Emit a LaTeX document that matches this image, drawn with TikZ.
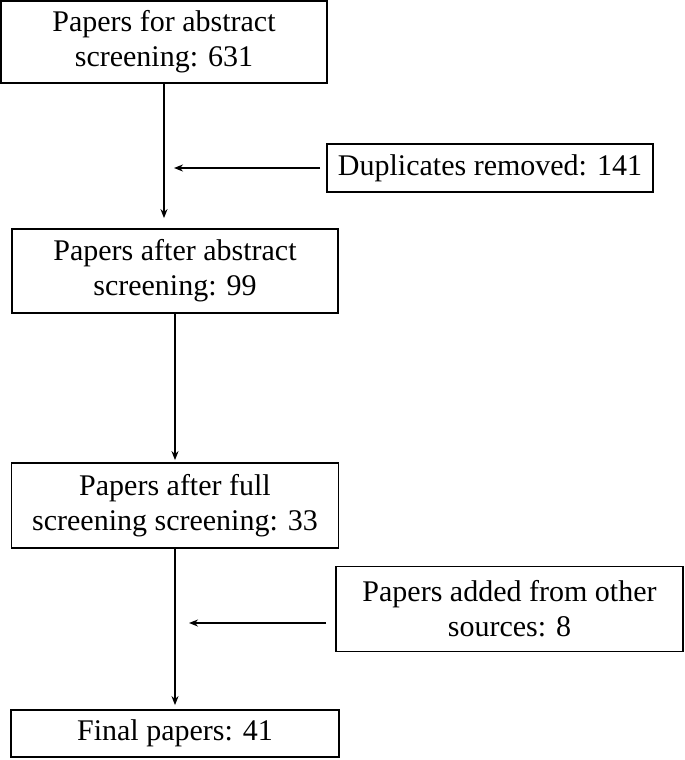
\documentclass[tikz,border=0pt]{standalone}
\usepackage{fontspec}
\setmainfont{Liberation Serif}
\newfontfamily\flowfont{Liberation Serif}
\usepackage{tikz}
\usetikzlibrary{positioning, arrows.meta, shapes, calc}
\usepackage{xcolor}

\tikzset{
  flowbox/.style={draw, line width=0.9pt, align=center, inner sep=0pt,
    font=\flowfont\fontsize{15}{17.5}\selectfont},
  flowarrow/.style={line width=0.8pt, -{Stealth[length=4.5pt, width=3.5pt]}}
}

\begin{document}
\begin{tikzpicture}[x=0.5pt, y=-0.5pt]
\useasboundingbox (0,0) rectangle (685,760);

% boxes of the main column
\node[flowbox, minimum width=163pt, minimum height=41pt] (abstract) at (164,42) {Papers for abstract\\screening: 631};
\node[flowbox, minimum width=163pt, minimum height=42pt] (afterabs) at (175,271) {Papers after abstract\\screening: 99};
\node[flowbox, minimum width=163.5pt, minimum height=42.5pt] (fullscr) at (175,505.5) {Papers after full\\screening screening: 33};
\node[flowbox, minimum width=164pt, minimum height=23.5pt] (final) at (175,733.5) {Final papers: 41};

% side boxes
\node[flowbox, minimum width=163pt, minimum height=24pt] (dupl) at (490,168) {Duplicates removed: 141};
\node[flowbox, minimum width=173.5pt, minimum height=42.5pt] (added) at (509.5,609) {Papers added from other\\sources: 8};

% connectors
\draw[flowarrow, shorten >=5pt] (abstract.south) -- (abstract.south |- afterabs.north);
\draw[flowarrow, shorten <=3pt, shorten >=5pt] (dupl.west) -- (abstract.south |- dupl.west);
\draw[flowarrow, shorten >=1pt] (afterabs.south) -- (afterabs.south |- fullscr.north);
\draw[flowarrow, shorten >=2pt] (fullscr.south) -- (fullscr.south |- final.north);
\draw[flowarrow, shorten <=4.5pt, shorten >=7pt] ($(added.west)+(0,14)$) -- ($(fullscr.south |- added.west)+(0,14)$);
\end{tikzpicture}
\end{document}
